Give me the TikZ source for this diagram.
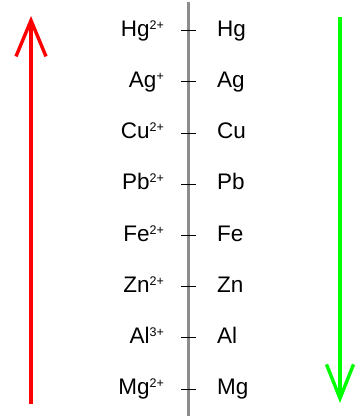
\documentclass[tikz,border=0pt]{standalone}
\usepackage{fontspec}
\setmainfont{Liberation Sans}
\usetikzlibrary{arrows.meta}
\newcommand{\chg}[1]{\raisebox{7pt}{\fontsize{12.5}{13}\selectfont #1}}
\begin{document}
\begin{tikzpicture}[x=1pt,y=-1pt,
  lbl/.style={font=\fontsize{22.5}{26}\selectfont, inner sep=0pt},
  scale line/.style={draw=black!45, line width=3pt},
  tickmark/.style={draw=black, line width=0.9pt},
  redarrow/.style={line width=3.4pt, -{Straight Barb[length=36pt,width=30pt,line width=3.4pt]}},
  greenarrow/.style={line width=3.4pt, -{Straight Barb[length=34pt,width=27pt,line width=3.4pt]}}]
\useasboundingbox (0,0) rectangle (363,417);
\coordinate (top) at (188,2);
\coordinate (bot) at (188,416);
\draw[scale line] (top) -- (bot);
\foreach \ion/\met [count=\i from 0] in {Hg\chg{2+}/Hg, Ag\chg{+}/Ag, Cu\chg{2+}/Cu, Pb\chg{2+}/Pb, Fe\chg{2+}/Fe, Zn\chg{2+}/Zn, Al\chg{3+}/Al, Mg\chg{2+}/Mg}{
  \pgfmathsetmacro{\yy}{30.7+51.2*\i}
  \coordinate (tl\i) at (181,\yy);
  \coordinate (tr\i) at (196,\yy);
  \draw[tickmark] (tl\i) -- (tr\i);
  \node[lbl, anchor=base east] (ion\i) at (164,\yy+5.5) {\ion};
  \node[lbl, anchor=base west] (met\i) at (217,\yy+5.5) {\met};
}
\coordinate (rs) at (31,404);
\coordinate (re) at (31,16);
\draw[redarrow, draw=red] (rs) -- (re);
\coordinate (gs) at (340,17);
\coordinate (ge) at (340,403);
\draw[greenarrow, draw=green] (gs) -- (ge);
\end{tikzpicture}
\end{document}
